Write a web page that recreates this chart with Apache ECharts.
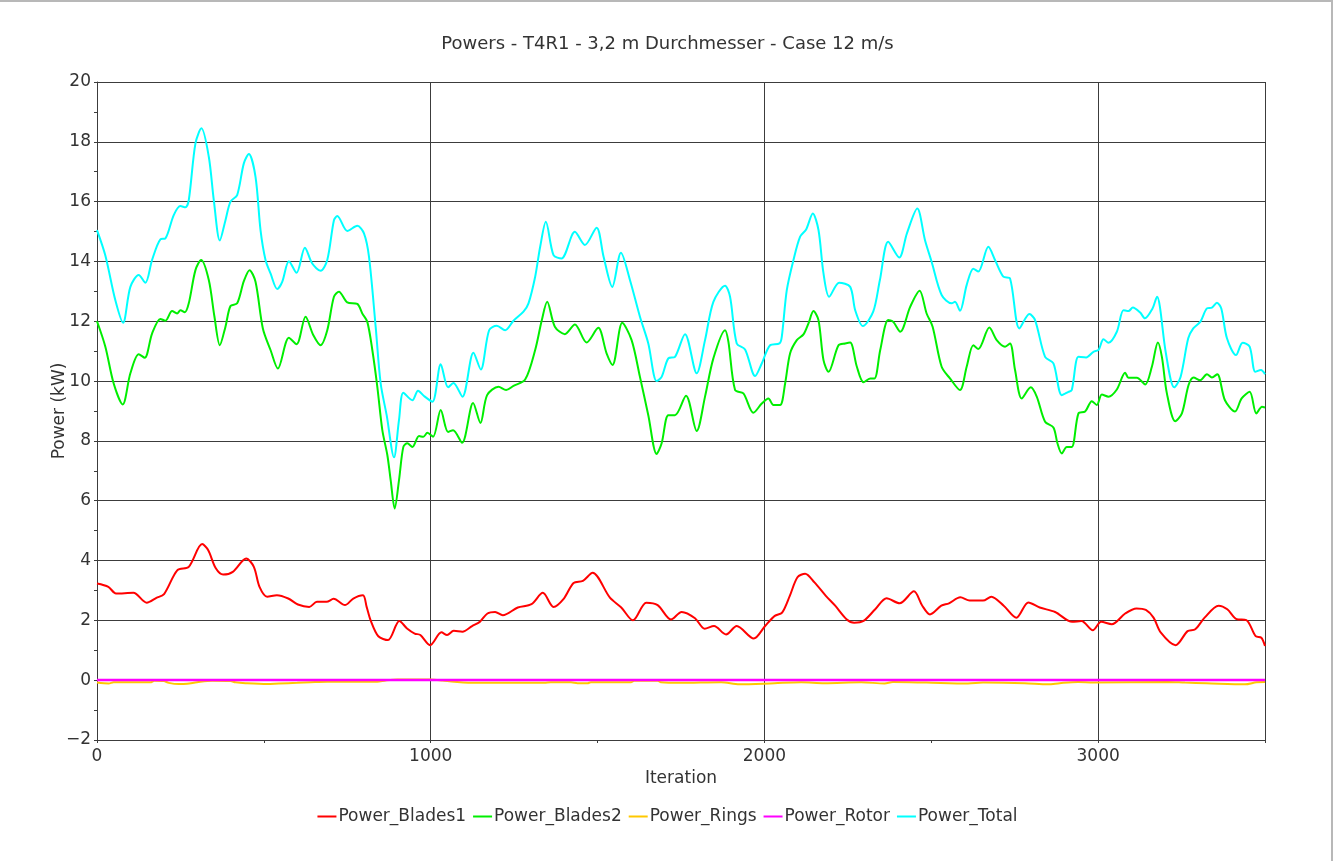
<!DOCTYPE html>
<html>
<head>
<meta charset="utf-8">
<title>Powers - T4R1</title>
<script src="https://cdn.jsdelivr.net/npm/echarts@6/dist/echarts.min.js"></script>
<style>
    html, body { margin: 0; padding: 0; background: #fff; }
    #chart { width: 1335px; height: 861px; }
    #frame {
        position: absolute; left: 0; top: 0; width: 1333px; height: 861px;
        border-top: 2px solid #b8b8b8; border-right: 2px solid #b8b8b8;
        box-sizing: border-box; pointer-events: none;
    }
</style>
</head>
<body>
<div id="chart"></div>
<div id="frame"></div>
<script>
// values (iteration / kW)
const seriesNames = ['Power_Blades1', 'Power_Blades2', 'Power_Rings', 'Power_Rotor', 'Power_Total'];
const seriesColors = ['#ff0000', '#00ee00', '#ffc800', '#ff00ff', '#00ffff'];

const blades1Iter = [0, 34, 57, 109, 149, 178, 201, 241, 275, 315, 333, 356, 378, 407, 447, 470, 487, 510, 539, 573,
    602, 636, 659, 688, 709, 743, 768, 797, 808, 820, 843, 872, 906, 929, 952, 969, 998, 1032, 1049, 1069,
    1095, 1124, 1147, 1170, 1193, 1216, 1261, 1302, 1336, 1368, 1399, 1428, 1456, 1485, 1537, 1571, 1606, 1646, 1680, 1720,
    1752, 1792, 1821, 1849, 1885, 1917, 1968, 2002, 2031, 2053, 2076, 2099, 2122, 2150, 2184, 2212, 2246, 2269, 2297, 2332,
    2366, 2405, 2448, 2473, 2496, 2530, 2553, 2587, 2615, 2655, 2680, 2717, 2755, 2791, 2825, 2871, 2922, 2950, 2984, 3009,
    3041, 3081, 3115, 3143, 3166, 3188, 3232, 3268, 3291, 3319, 3361, 3387, 3415, 3444, 3472, 3489, 3500];
const blades1Power = [3.23, 3.12, 2.9, 2.92, 2.59, 2.75, 2.88, 3.68, 3.79, 4.55, 4.35, 3.74, 3.53, 3.62, 4.07, 3.79, 3.12, 2.79, 2.84, 2.73,
    2.53, 2.45, 2.62, 2.62, 2.72, 2.51, 2.73, 2.84, 2.45, 2.0, 1.47, 1.34, 1.98, 1.73, 1.56, 1.51, 1.17, 1.6, 1.51, 1.65,
    1.62, 1.81, 1.95, 2.23, 2.28, 2.17, 2.43, 2.54, 2.92, 2.45, 2.73, 3.25, 3.32, 3.59, 2.76, 2.43, 2.0, 2.59, 2.51, 2.03,
    2.28, 2.07, 1.72, 1.81, 1.53, 1.81, 1.39, 1.81, 2.15, 2.26, 2.82, 3.44, 3.56, 3.27, 2.82, 2.49, 2.04, 1.92, 1.98, 2.37,
    2.74, 2.57, 2.97, 2.49, 2.2, 2.49, 2.57, 2.77, 2.66, 2.66, 2.79, 2.49, 2.09, 2.6, 2.43, 2.28, 1.95, 1.98, 1.67, 1.95,
    1.87, 2.23, 2.4, 2.35, 2.09, 1.59, 1.17, 1.64, 1.7, 2.09, 2.49, 2.37, 2.04, 2.01, 1.47, 1.42, 1.14];

const blades2Iter = [0, 25, 50, 77, 100, 125, 143, 165, 190, 205, 225, 240, 250, 263, 275, 295, 312, 335, 352, 368,
    385, 400, 420, 440, 457, 475, 497, 520, 542, 575, 598, 625, 648, 670, 690, 710, 725, 750, 780, 795,
    810, 825, 840, 855, 870, 880, 892, 905, 918, 930, 945, 965, 978, 990, 1007, 1030, 1052, 1067, 1094, 1127,
    1149, 1169, 1203, 1226, 1248, 1283, 1313, 1333, 1349, 1372, 1402, 1432, 1467, 1502, 1527, 1545, 1574, 1602, 1627, 1652,
    1677, 1692, 1712, 1732, 1765, 1797, 1822, 1847, 1882, 1892, 1912, 1937, 1967, 1992, 2012, 2027, 2047, 2062, 2077, 2097,
    2117, 2132, 2147, 2162, 2177, 2192, 2222, 2242, 2257, 2277, 2297, 2317, 2330, 2347, 2371, 2386, 2407, 2437, 2465, 2486,
    2504, 2531, 2556, 2586, 2606, 2626, 2641, 2674, 2696, 2721, 2736, 2751, 2771, 2798, 2816, 2841, 2866, 2878, 2891, 2906,
    2921, 2941, 2961, 2981, 2996, 3011, 3031, 3056, 3081, 3091, 3116, 3141, 3161, 3179, 3191, 3206, 3231, 3251, 3271, 3286,
    3306, 3326, 3341, 3357, 3380, 3410, 3430, 3454, 3474, 3491, 3500];
const blades2Power = [12.0, 11.15, 9.92, 9.22, 10.26, 10.9, 10.78, 11.59, 12.08, 12.02, 12.34, 12.26, 12.37, 12.3, 12.6, 13.71, 14.05, 13.38, 12.15, 11.2,
    11.82, 12.51, 12.6, 13.34, 13.71, 13.32, 11.76, 11.04, 10.42, 11.45, 11.23, 12.15, 11.54, 11.2, 11.7, 12.82, 12.99, 12.63, 12.58, 12.26,
    11.98, 11.04, 9.81, 8.36, 7.53, 6.69, 5.74, 6.69, 7.8, 7.92, 7.8, 8.16, 8.14, 8.27, 8.14, 9.03, 8.3, 8.36, 7.94, 9.27,
    8.6, 9.53, 9.81, 9.7, 9.84, 10.05, 11.04, 12.04, 12.65, 11.82, 11.57, 11.89, 11.29, 11.78, 10.93, 10.54, 11.95, 11.37, 10.14, 8.86,
    7.56, 7.92, 8.86, 8.86, 9.51, 8.33, 9.48, 10.76, 11.7, 11.32, 9.7, 9.59, 8.94, 9.25, 9.42, 9.2, 9.2, 9.92, 10.93, 11.37,
    11.56, 11.93, 12.34, 12.04, 10.7, 10.31, 11.2, 11.26, 11.29, 10.48, 9.96, 10.09, 10.09, 11.04, 12.04, 11.98, 11.65, 12.49, 13.02, 12.26,
    11.82, 10.48, 10.09, 9.7, 10.48, 11.2, 11.07, 11.79, 11.37, 11.15, 11.26, 10.37, 9.42, 9.79, 9.48, 8.64, 8.45, 7.92, 7.58, 7.8,
    7.8, 8.92, 8.98, 9.33, 9.2, 9.55, 9.48, 9.72, 10.28, 10.11, 10.11, 9.89, 10.48, 11.29, 10.81, 9.59, 8.66, 8.92, 9.87, 10.12,
    10.03, 10.23, 10.12, 10.23, 9.36, 8.98, 9.42, 9.64, 8.92, 9.14, 9.12];

const ringsIter = [0, 35, 50, 160, 172, 200, 215, 245, 270, 300, 345, 400, 415, 445, 510, 545, 600, 640, 690, 840,
    865, 900, 1000, 1035, 1070, 1135, 1340, 1360, 1420, 1440, 1470, 1480, 1600, 1610, 1680, 1690, 1747, 1870, 1925, 2030,
    2110, 2180, 2290, 2360, 2385, 2485, 2610, 2655, 2780, 2850, 2885, 2940, 2985, 3210, 3260, 3325, 3440, 3475, 3500];
const ringsPower = [-0.08, -0.11, -0.07, -0.07, -0.02, -0.03, -0.09, -0.13, -0.12, -0.07, -0.02, -0.03, -0.07, -0.1, -0.13, -0.11, -0.09, -0.07, -0.05, -0.05,
    -0.01, 0.02, 0.02, -0.01, -0.05, -0.09, -0.09, -0.07, -0.07, -0.1, -0.1, -0.07, -0.07, -0.02, -0.02, -0.07, -0.09, -0.07, -0.14, -0.1,
    -0.07, -0.1, -0.07, -0.11, -0.06, -0.08, -0.11, -0.08, -0.1, -0.14, -0.1, -0.06, -0.08, -0.06, -0.08, -0.1, -0.14, -0.07, -0.06];

const rotorIter = [0, 3500];
const rotorPower = [0.01, 0.01];

const totalIter = [0, 25, 55, 78, 100, 125, 145, 165, 190, 205, 230, 250, 265, 275, 295, 313, 335, 350, 368, 385,
    400, 420, 440, 455, 475, 490, 505, 520, 540, 555, 575, 598, 623, 645, 670, 690, 710, 720, 750, 780,
    800, 815, 835, 850, 868, 890, 905, 918, 945, 962, 980, 1005, 1030, 1052, 1068, 1095, 1128, 1150, 1175, 1198,
    1223, 1248, 1278, 1293, 1313, 1328, 1345, 1368, 1392, 1432, 1462, 1497, 1518, 1544, 1570, 1597, 1627, 1652, 1677, 1692,
    1712, 1732, 1762, 1797, 1822, 1847, 1882, 1897, 1917, 1942, 1972, 1992, 2017, 2045, 2052, 2067, 2087, 2107, 2125, 2145,
    2162, 2177, 2194, 2224, 2257, 2272, 2295, 2326, 2346, 2371, 2404, 2427, 2458, 2481, 2501, 2531, 2561, 2571, 2586, 2606,
    2626, 2641, 2671, 2691, 2716, 2736, 2764, 2794, 2811, 2841, 2866, 2891, 2911, 2921, 2941, 2964, 2986, 3001, 3016, 3031,
    3056, 3076, 3091, 3104, 3126, 3140, 3163, 3177, 3185, 3203, 3228, 3247, 3270, 3285, 3306, 3326, 3341, 3356, 3369, 3386,
    3413, 3433, 3454, 3471, 3488, 3500];
const totalPower = [15.05, 14.2, 12.7, 11.95, 13.15, 13.55, 13.29, 14.05, 14.74, 14.77, 15.55, 15.85, 15.81, 16.05, 17.95, 18.45, 17.5, 16.05, 14.7, 15.38,
    16.0, 16.22, 17.28, 17.59, 16.83, 15.05, 14.05, 13.6, 13.08, 13.32, 14.01, 13.62, 14.46, 13.93, 13.69, 14.05, 15.38, 15.52, 15.02, 15.19,
    14.94, 14.16, 11.82, 9.92, 8.86, 7.45, 8.7, 9.61, 9.36, 9.68, 9.5, 9.31, 10.56, 9.79, 9.94, 9.48, 10.95, 10.39, 11.7, 11.85,
    11.7, 12.02, 12.32, 12.6, 13.49, 14.49, 15.33, 14.21, 14.1, 14.99, 14.55, 15.13, 14.16, 13.15, 14.29, 13.38, 12.15, 11.26, 10.0, 10.14,
    10.76, 10.81, 11.57, 10.26, 11.37, 12.65, 13.19, 12.82, 11.26, 11.06, 10.17, 10.59, 11.2, 11.26, 11.48, 13.04, 14.05, 14.83, 15.07, 15.6,
    15.05, 13.6, 12.82, 13.29, 13.15, 12.37, 11.84, 12.32, 13.38, 14.66, 14.13, 14.94, 15.77, 14.72, 13.99, 12.88, 12.6, 12.65, 12.35, 13.21,
    13.76, 13.66, 14.49, 14.05, 13.49, 13.43, 11.76, 12.24, 12.04, 10.81, 10.59, 9.53, 9.64, 9.7, 10.81, 10.79, 10.98, 11.04, 11.4, 11.28,
    11.65, 12.37, 12.34, 12.46, 12.29, 12.1, 12.43, 12.82, 12.49, 10.93, 9.79, 10.14, 11.43, 11.76, 11.98, 12.43, 12.46, 12.62, 12.43, 11.43,
    10.87, 11.28, 11.15, 10.31, 10.37, 10.23];

const xTicks = [0, 1000, 2000, 3000];

function pairs(xs, ys) {
    return xs.map(function (x, i) { return [x, ys[i]]; });
}

const seriesData = [
    pairs(blades1Iter, blades1Power),
    pairs(blades2Iter, blades2Power),
    pairs(ringsIter, ringsPower),
    pairs(rotorIter, rotorPower),
    pairs(totalIter, totalPower)
];

const FONT = 'DejaVu Sans';
const INK = '#333333';
const GRID = '#3c3c3c';

const chart = echarts.init(document.getElementById('chart'), null, { renderer: 'canvas' });

chart.setOption({
    animation: false,
    backgroundColor: '#ffffff',
    textStyle: { fontFamily: FONT, color: INK },
    title: {
        text: 'Powers - T4R1 - 3,2 m Durchmesser - Case 12 m/s',
        left: 'center',
        top: 30,
        textStyle: { fontFamily: FONT, fontSize: 18, fontWeight: 'normal', color: INK }
    },
    legend: {
        bottom: 31,
        left: 'center',
        itemGap: 7,
        itemWidth: 19,
        itemHeight: 2,
        icon: 'rect',
        data: seriesNames,
        textStyle: { fontFamily: FONT, fontSize: 17, color: INK, padding: [0, 0, 0, -3] }
    },
    grid: { left: 97, right: 70, top: 82, bottom: 121, containLabel: false },
    xAxis: {
        type: 'value',
        min: 0,
        max: 3500,
        interval: 1000,
        name: 'Iteration',
        nameLocation: 'middle',
        nameGap: 29,
        nameTextStyle: { fontFamily: FONT, fontSize: 17, color: INK },
        axisLine: { show: true, onZero: false, lineStyle: { color: GRID, width: 1 } },
        axisTick: { show: true, length: 3, lineStyle: { color: GRID } },
        minorTick: { show: true, splitNumber: 2, length: 3, lineStyle: { color: GRID } },
        axisLabel: {
            fontFamily: FONT, fontSize: 17, color: INK, margin: 8,
            showMaxLabel: false,
            formatter: function (v) { return xTicks.indexOf(v) >= 0 ? String(v) : ''; }
        },
        splitLine: { show: true, lineStyle: { color: GRID, width: 1 } }
    },
    yAxis: {
        type: 'value',
        min: -2,
        max: 20,
        interval: 2,
        name: 'Power (kW)',
        nameLocation: 'middle',
        nameGap: 29,
        nameMoveOverlap: false,
        nameTextStyle: { fontFamily: FONT, fontSize: 17, color: INK },
        axisLine: { show: true, onZero: false, lineStyle: { color: GRID, width: 1 } },
        axisTick: { show: true, length: 3, lineStyle: { color: GRID } },
        minorTick: { show: true, splitNumber: 2, length: 3, lineStyle: { color: GRID } },
        axisLabel: {
            fontFamily: FONT, fontSize: 17, color: INK, margin: 6,
            formatter: function (v) { return v < 0 ? '\u2212' + Math.abs(v) : String(v); }
        },
        splitLine: { show: true, lineStyle: { color: GRID, width: 1 } }
    },
    series: seriesNames.map(function (name, i) {
        return {
            name: name,
            type: 'line',
            data: seriesData[i],
            showSymbol: false,
            symbol: 'none',
            smooth: 0.3,
            color: seriesColors[i],
            lineStyle: { width: name === 'Power_Rotor' ? 2.5 : 2, color: seriesColors[i] },
            emphasis: { disabled: true },
            z: 2 + i
        };
    })
});
</script>
</body>
</html>
